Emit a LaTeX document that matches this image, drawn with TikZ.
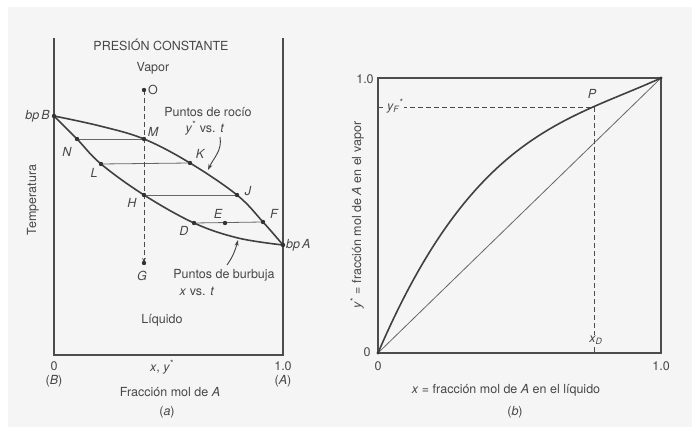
\documentclass[tikz,border=0pt]{standalone}
\usepackage{fontspec}
\setmainfont{TeX Gyre Heros}
\usetikzlibrary{arrows.meta}
\begin{document}
\begin{tikzpicture}[x=1pt,y=-1pt,
  frame/.style={draw=black!70, line width=1.1pt},
  curve/.style={draw=black!75, line width=1.6pt},
  tie/.style={draw=black!60, line width=0.8pt},
  dashln/.style={draw=black!70, line width=0.9pt, dash pattern=on 5pt off 3pt},
  lbl/.style={text=black!72, font=\fontsize{12.5}{14}\selectfont, inner sep=1pt},
  plbl/.style={lbl, font=\fontsize{12.5}{14}\selectfont\itshape},
  arr/.style={draw=black!75, line width=0.9pt, -{Stealth[length=6pt,width=4pt]}},
  bgfill/.style={fill=black!4}
]
\useasboundingbox (0,0) rectangle (692,427);
\fill[white] (0,0) rectangle (692,427);
\fill[black!4] (8,7) rectangle (692,427);

% ---------------- panel (a) ----------------
\draw[frame] (54,38) -- (54,355) -- (283,355) -- (283,38);

\coordinate (bpB) at (54,116);
\coordinate (d1) at (100,126);
\coordinate (M) at (144,139);
\coordinate (K) at (190,163);
\coordinate (J) at (237,195);
\coordinate (F) at (263,222);
\coordinate (bpA) at (283,245);
\coordinate (N) at (77,139);
\coordinate (L) at (101,164);
\coordinate (H) at (144,195);
\coordinate (D) at (194,223);
\coordinate (b1) at (238,238);
\coordinate (E) at (225,223);
\coordinate (O) at (144,90);
\coordinate (G) at (144,263);

\draw[curve] plot[smooth, tension=0.6] coordinates {(bpB) (d1) (M) (K) (J) (F) (bpA)};
\draw[curve] plot[smooth, tension=0.6] coordinates {(bpB) (N) (L) (H) (D) (b1) (bpA)};

\draw[tie] (N) -- (M);
\draw[tie] (L) -- (K);
\draw[tie] (H) -- (J);
\draw[tie] (D) -- (F);

\draw[dashln, -{Stealth[length=5pt,width=3.5pt]}] (O) -- (G);

\foreach \p in {M,N,K,L,J,H,D,E,F,O,G,bpB,bpA}
  \fill[black!80] (\p) circle (2.2pt);

\node[plbl] (lM) at (153,132) {M};
\node[plbl] (lN) at (67,152) {N};
\node[plbl] (lL) at (94,173) {L};
\node[plbl] (lK) at (200,154) {K};
\node[plbl] (lJ) at (248,191) {J};
\node[plbl] (lH) at (132,203) {H};
\node[plbl] (lE) at (218,214) {E};
\node[plbl] (lF) at (274,214) {F};
\node[plbl] (lD) at (184,231) {D};
\node[plbl] (lG) at (142,276) {G};
\node[lbl] (lO) at (153,90) {O};
\node[plbl, anchor=east] (lbpB) at (51,116) {bp\,B};
\node[plbl, anchor=west] (lbpA) at (285,245) {bp\,A};

\node[lbl] (pres) at (161,45) {PRESIÓN CONSTANTE};
\node[lbl] (vap) at (153,68) {Vapor};
\node[lbl] (roc) at (208,112) {Puntos de rocío};
\node[lbl] (rocb) at (205,128) {\textit{y}\textsuperscript{*} vs. \textit{t}};
\coordinate (rA) at (220,137);
\coordinate (rB) at (208,170);
\draw[arr] (rA) to[out=-80,in=65] (rB);

\node[lbl] (burb) at (224,275) {Puntos de burbuja};
\node[lbl] (burbb) at (197,291) {\textit{x} vs. \textit{t}};
\coordinate (bA) at (227,265);
\coordinate (bB) at (238,240);
\draw[arr] (bA) to[out=55,in=-105] (bB);

\node[lbl] (liq) at (162,320) {Líquido};
\node[lbl, rotate=90] (temp) at (33,200) {Temperatura};

\node[lbl] (z0) at (54,366) {0};
\node[lbl] (zB) at (54,381) {(\textit{B})};
\node[lbl] (xy) at (162,367) {\textit{x}, \textit{y}\textsuperscript{*}};
\node[lbl] (z1) at (283,366) {1.0};
\node[lbl] (zA) at (283,381) {(\textit{A})};
\node[lbl] (fa) at (170,392) {Fracción mol de \textit{A}};
\node[lbl] (pa) at (167,412) {(\textit{a})};

% ---------------- panel (b) ----------------
\draw[frame] (378,78) rectangle (661,353);
\coordinate (O2) at (378,353);
\coordinate (T2) at (661,78);
\coordinate (P) at (594,107);
\coordinate (yF) at (378,107);
\coordinate (xD) at (594,353);

\draw[tie] (O2) -- (T2);
\draw[dashln] (yF) -- (P) -- (xD);
\draw[curve] plot[domain=0:1, samples=80, smooth]
  ({378+283*\x},{353-275*(2.4*\x-2.27*\x*\x+0.87*\x*\x*\x)});
\fill[black!80] (T2) circle (1.6pt);
\fill[black!80] (O2) circle (1.6pt);

\node[plbl, bgfill] (lyF) at (395,106) {y\textsubscript{F}\textsuperscript{*}};
\node[plbl, bgfill] (lxD) at (596,340) {x\textsubscript{D}};
\node[plbl] (lP) at (592,94) {P};

\node[lbl] (t10) at (365,79) {1.0};
\node[lbl] (t0l) at (367,352) {0};
\node[lbl] (t0b) at (378,366) {0};
\node[lbl] (t1b) at (661,366) {1.0};
\node[lbl, rotate=90] (ylab) at (357,215) {\textit{y}\textsuperscript{*} = fracción mol de \textit{A} en el vapor};
\node[lbl] (xlab) at (506,390) {\textit{x} = fracción mol de \textit{A} en el líquido};
\node[lbl] (pb) at (515,412) {(\textit{b})};
\end{tikzpicture}
\end{document}
